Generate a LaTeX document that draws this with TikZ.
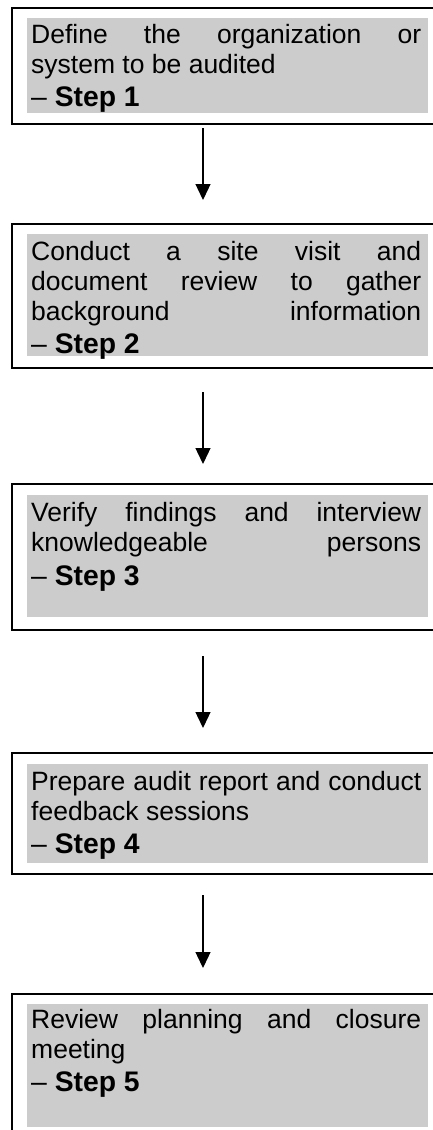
\documentclass[tikz,border=0pt]{standalone}
\usepackage{fontspec}
\setmainfont{Liberation Sans}
\usetikzlibrary{arrows.meta}
\definecolor{boxgray}{RGB}{204,204,204}
\tikzset{
  outerbox/.style={draw=black, line width=1.6pt, fill=white, anchor=north west, inner sep=0pt, minimum width=430pt},
  graybox/.style={fill=boxgray, anchor=north west, inner sep=0pt, minimum width=401pt},
  steptext/.style={anchor=north west, inner sep=0pt, text width=390pt, align=justify, font=\fontsize{26.5}{30}\selectfont},
  flowarrow/.style={line width=1.3pt, -{Triangle[width=15pt,length=16pt]}}
}
\newcommand{\steplabel}[1]{\par{\fontsize{28.3}{33.5}\selectfont\noindent –~\textbf{Step #1}\par}}
\newcommand{\fulllast}{{\parfillskip=0pt\par}}
\newcommand{\firstline}{\noindent\rule{0pt}{20pt}}
\begin{document}
\begin{tikzpicture}[x=1pt,y=-1pt]
\useasboundingbox (0,0) rectangle (433,1130);
\clip (0,0) rectangle (433,1130);
% box 1
\node[outerbox, minimum height=116pt] (b1) at (11,7) {};
\node[graybox, minimum height=95pt] (g1) at (27,18) {};
\node[steptext] (t1) at (31,23) {\firstline Define the organization or\linebreak system to be audited\steplabel{1}};
% box 2
\node[outerbox, minimum height=144pt] (b2) at (11,223) {};
\node[graybox, minimum height=122pt] (g2) at (27,234) {};
\node[steptext] (t2) at (31,240) {\firstline Conduct a site visit and\linebreak document review to gather\linebreak background information\fulllast\steplabel{2}};
% box 3
\node[outerbox, minimum height=146pt] (b3) at (11,483) {};
\node[graybox, minimum height=122pt] (g3) at (27,495) {};
\node[steptext] (t3) at (31,501.7) {\firstline Verify findings and interview\linebreak knowledgeable persons\fulllast\steplabel{3}};
% box 4
\node[outerbox, minimum height=121pt] (b4) at (11,752) {};
\node[graybox, minimum height=99pt] (g4) at (27,764) {};
\node[steptext] (t4) at (31,770) {\firstline Prepare audit report and conduct\linebreak feedback sessions\steplabel{4}};
% box 5
\node[outerbox, minimum height=152pt] (b5) at (11,993) {};
\node[graybox, minimum height=123pt] (g5) at (27,1004) {};
\node[steptext] (t5) at (31,1008) {\firstline Review planning and closure\linebreak meeting\steplabel{5}};
% arrows
\coordinate (a1s) at (203,128); \coordinate (a1e) at (203,200);
\coordinate (a2s) at (203,392); \coordinate (a2e) at (203,464);
\coordinate (a3s) at (203,656); \coordinate (a3e) at (203,728);
\coordinate (a4s) at (203,895); \coordinate (a4e) at (203,968);
\draw[flowarrow] (a1s) -- (a1e);
\draw[flowarrow] (a2s) -- (a2e);
\draw[flowarrow] (a3s) -- (a3e);
\draw[flowarrow] (a4s) -- (a4e);
\end{tikzpicture}
\end{document}
